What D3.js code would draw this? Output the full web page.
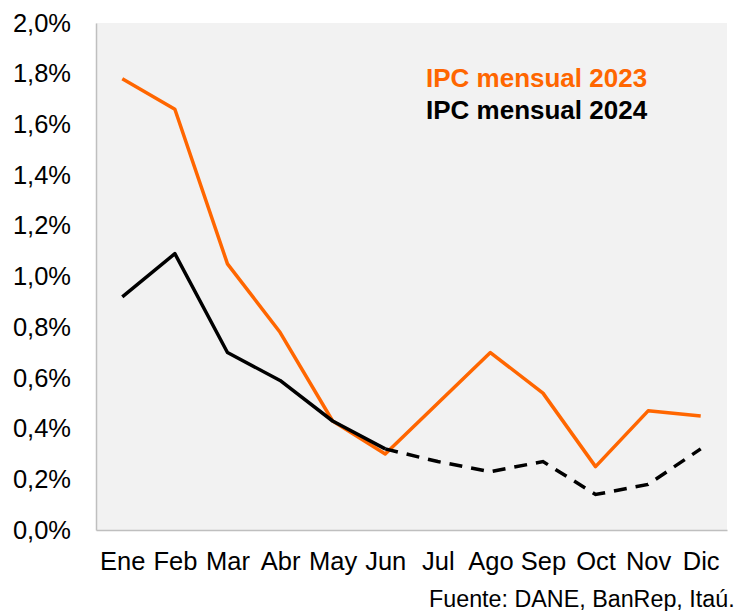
<!DOCTYPE html>
<html><head><meta charset="utf-8">
<script src="https://cdn.jsdelivr.net/npm/d3@7"></script>
<style>body{margin:0;background:#fff}svg{display:block}</style>
</head><body>
<script>
const months = ["Ene","Feb","Mar","Abr","May","Jun","Jul","Ago","Sep","Oct","Nov","Dic"];
const ipc2023 = [1.78,1.66,1.05,0.78,0.43,0.30,0.50,0.70,0.54,0.25,0.47,0.45];
const ipc2024 = [0.92,1.09,0.70,0.59,0.43,0.32];
const ipc2024Forecast = [null,null,null,null,null,0.32,0.27,0.23,0.27,0.14,0.18,0.32];
const yTicks = [0,0.2,0.4,0.6,0.8,1.0,1.2,1.4,1.6,1.8,2.0];
const legendLabels = ["IPC mensual 2023","IPC mensual 2024"];
const sourceText = "Fuente: DANE, BanRep, Itaú.";

const W=738,H=611;
const m={left:96,right:11,top:23,bottom:81};
const svg=d3.select("body").append("svg").attr("width",W).attr("height",H);
const x=d3.scalePoint().domain(months).range([m.left,W-m.right]).padding(0.5);
const y=d3.scaleLinear().domain([0,2]).range([H-m.bottom,m.top]);
const font="'Liberation Sans', Arial, sans-serif";

svg.append("rect").attr("x",m.left).attr("y",m.top).attr("width",W-m.right-m.left).attr("height",H-m.bottom-m.top).attr("fill","#f2f2f2");

const ya=svg.append("g").attr("transform",`translate(${m.left},0)`)
  .call(d3.axisLeft(y).tickValues(yTicks).tickSize(0).tickPadding(25)
  .tickFormat(d=>d3.format(".1f")(d).replace(".",",")+"%"));
ya.select(".domain").attr("stroke","#bfbfbf").attr("stroke-width",1.5);
ya.selectAll("text").attr("font-family",font).attr("font-size",25.5).attr("fill","#000");

const xa=svg.append("g").attr("transform",`translate(0,${H-m.bottom})`)
  .call(d3.axisBottom(x).tickSize(0).tickPadding(22));
xa.select(".domain").attr("stroke","#bfbfbf").attr("stroke-width",1.5);
xa.selectAll("text").attr("font-family",font).attr("font-size",25.5).attr("fill","#000");

const line=d3.line().defined(d=>d!=null).x((d,i)=>x(months[i])).y(d=>y(d));
svg.append("path").attr("d",line(ipc2023)).attr("fill","none").attr("stroke","#ff6600").attr("stroke-width",3.5).attr("stroke-linejoin","round");
svg.append("path").attr("d",line(ipc2024Forecast)).attr("fill","none").attr("stroke","#000").attr("stroke-width",3.5).attr("stroke-dasharray","13,9");
svg.append("path").attr("d",line(ipc2024)).attr("fill","none").attr("stroke","#000").attr("stroke-width",3.5).attr("stroke-linejoin","round");

const lc=["#ff6600","#000"];
legendLabels.forEach((t,i)=>{
  svg.append("text").attr("x",426).attr("y",87+i*31.5).attr("font-family",font).attr("font-weight","bold")
   .attr("font-size",26).attr("fill",lc[i]).text(t);
});
svg.append("text").attr("x",429).attr("y",607).attr("font-family",font).attr("font-size",23.3).attr("fill","#000").text(sourceText);
</script>
</body></html>
